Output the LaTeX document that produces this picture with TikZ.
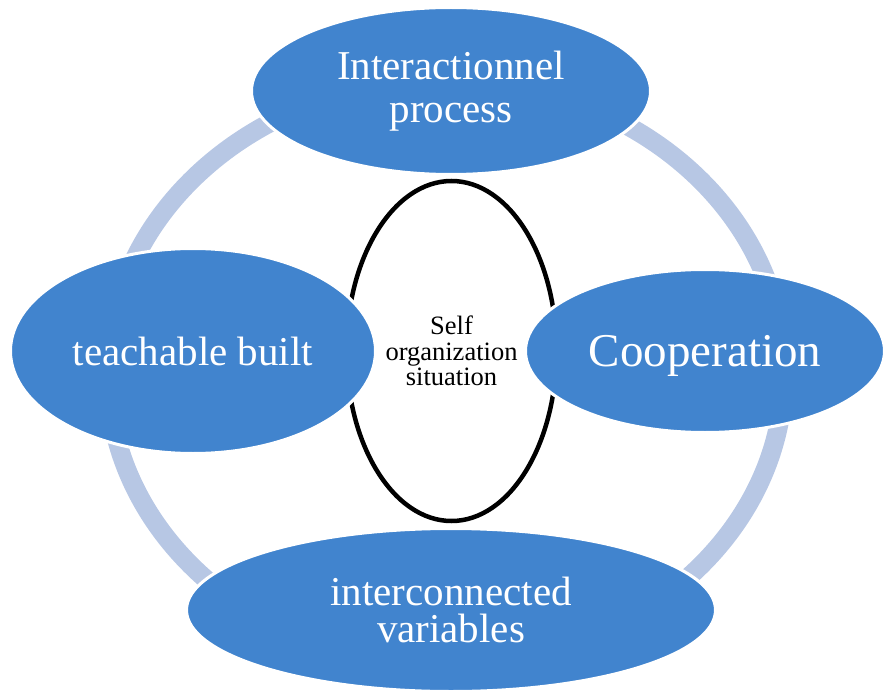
\documentclass[tikz,border=0pt]{standalone}
\usepackage{fontspec}
\setmainfont{Liberation Serif}
\usetikzlibrary{shapes.geometric}
\definecolor{smartblue}{RGB}{65,132,206}
\definecolor{ringblue}{RGB}{183,199,228}

\begin{document}
\begin{tikzpicture}[x=1pt, y=-1pt,
  blob/.style={ellipse, fill=smartblue, draw=white, line width=3pt,
    text=white, inner sep=0pt, align=center},
  core/.style={ellipse, draw=black, line width=4.5pt, fill=white,
    inner sep=0pt, align=center}]
  \useasboundingbox (0,0) rectangle (884,690);
  \clip (0,0) rectangle (884,690);
  % ring behind everything
  \draw[ringblue, line width=19pt] (446,373) ellipse [x radius=338, y radius=293];
  % centre
  \node[core, minimum width=210pt, minimum height=340pt,
    font=\fontsize{26.5}{25.5}\selectfont] (self) at (451.5,351)
    {Self\\organization\\situation};
  % top
  \node[blob, minimum width=399pt, minimum height=167pt,
    font=\fontsize{41}{43}\selectfont] (proc) at (451,91)
    {Interactionnel\\process};
  % left
  \node[blob, minimum width=365pt, minimum height=205pt,
    font=\fontsize{41}{43}\selectfont] (built) at (193,351)
    {teachable built};
  % right
  \node[blob, minimum width=359pt, minimum height=163pt, text depth=0pt,
    font=\fontsize{47}{50}\selectfont] (coop) at (705,351)
    {Cooperation};
  % bottom
  \node[blob, minimum width=529pt, minimum height=163pt,
    font=\fontsize{41}{37}\selectfont] (vars) at (451,610)
    {interconnected\\variables};
\end{tikzpicture}
\end{document}
